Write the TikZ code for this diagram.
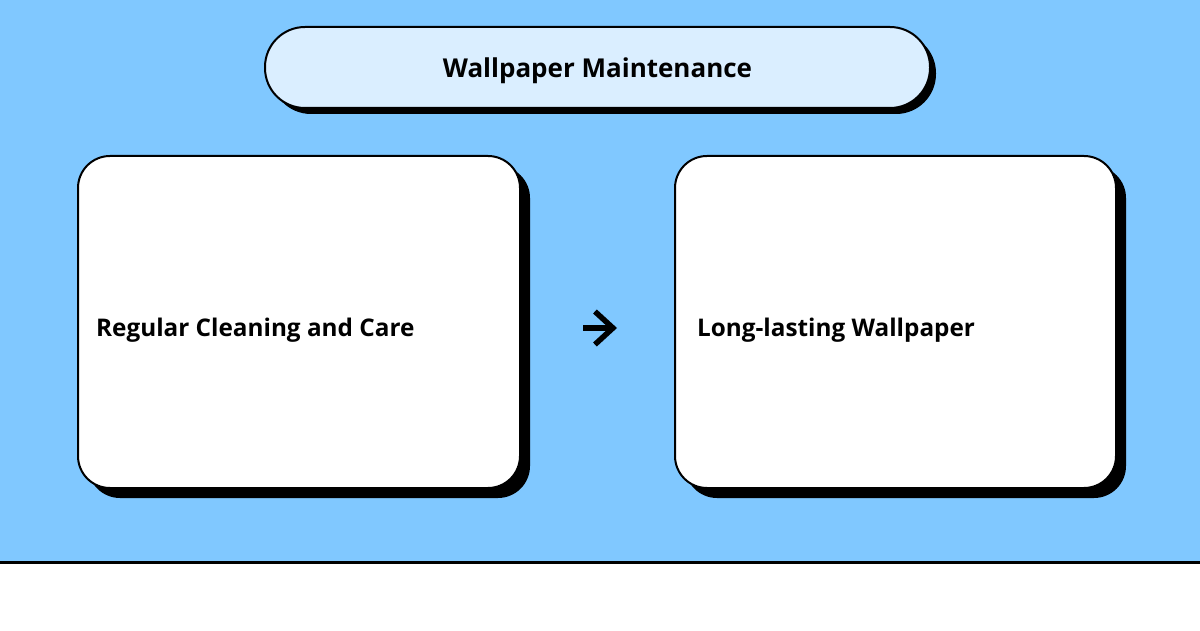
\documentclass[tikz,border=0pt]{standalone}
\usepackage{fontspec}
\setmainfont{Open Sans}
\usetikzlibrary{positioning,shadows,arrows.meta}
\definecolor{skyblue}{HTML}{80C8FF}
\definecolor{paleblue}{HTML}{DAEEFF}

\begin{document}
\begin{tikzpicture}
            [x=1pt, y=1pt,
             card/.style={draw, line width=2pt, fill=white, rounded corners=32pt,
                          minimum width=442pt, minimum height=332pt,
                          drop shadow={shadow xshift=10pt, shadow yshift=-10pt, fill=black, opacity=1}},
             title pill/.style={draw, line width=2pt, fill=paleblue, rounded corners=40pt,
                          minimum width=665pt, minimum height=81pt,
                          drop shadow={shadow xshift=6pt, shadow yshift=-6pt, fill=black, opacity=1}},
             title text/.style={font=\bfseries\fontsize{26}{30}\selectfont, inner sep=0pt},
             card text/.style={font=\bfseries\fontsize{24.3}{28}\selectfont, inner sep=0pt},
             flow/.style={line width=5.5pt, -{Straight Barb[length=18pt 0, width=33pt 0]}}]
            \useasboundingbox (0,0) rectangle (1200,630);
            \fill[white] (0,0) rectangle (1200,68);
            \fill[skyblue] (0,68) rectangle (1200,630);
            \draw[line width=3pt] (0,68) -- (1200,68);

            \node[title pill] (title) at (597.5,562.5) {};
            \node[title text] (titletext) at ([yshift=-3pt]title.center) {Wallpaper Maintenance};

            \node[card] (clean) at (299,308) {};
            \node[card, minimum width=441pt] (result) at (895.5,308) {};

            \node[card text, right=19pt of clean.west, yshift=-8pt] (cleantext) {Regular Cleaning and Care};
            \node[card text, right=23pt of result.west, yshift=-8pt] (resulttext) {Long-lasting Wallpaper};

            \draw[flow, shorten <=62pt, shorten >=57pt] ([yshift=-6pt]clean.east) -- ([yshift=-6pt]result.west);
         \end{tikzpicture}
\end{document}
